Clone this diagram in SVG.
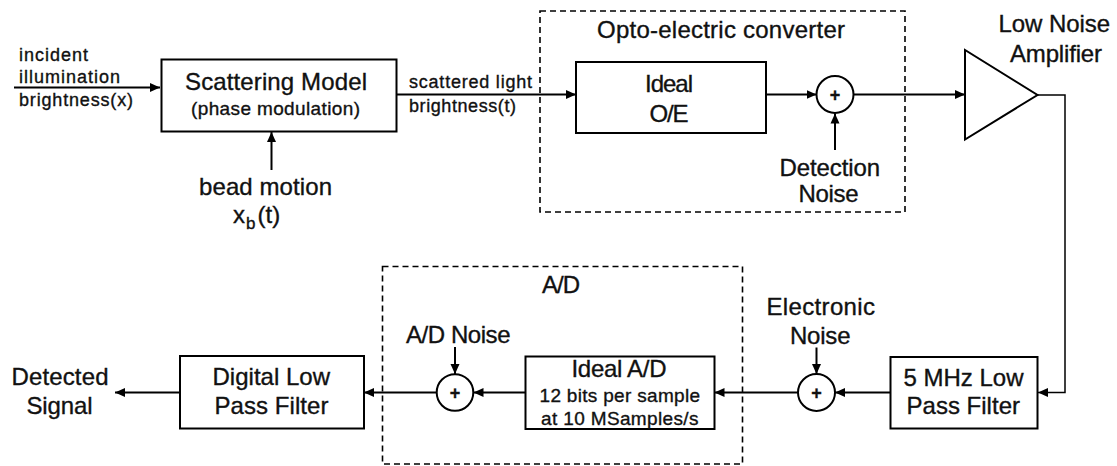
<svg xmlns="http://www.w3.org/2000/svg" width="1117" height="466" viewBox="0 0 1117 466">
<defs>
<marker id="arr" markerUnits="userSpaceOnUse" markerWidth="11" markerHeight="10" refX="10" refY="5" orient="auto">
<path d="M0,0.5 L10,5 L0,9.5 z" fill="#000"/>
</marker>
<style>
text{font-family:"Liberation Sans",Arial,Helvetica,sans-serif;fill:#111;stroke:#111;stroke-width:0.35}
.lg{font-size:24px}
.sm{font-size:18px}
.pl{font-size:18px;font-weight:bold;text-anchor:middle}
.box{fill:#fff;stroke:#000;stroke-width:2}
.dash{fill:none;stroke:#000;stroke-width:1.6;stroke-dasharray:6 4}
.sum{fill:#fff;stroke:#000;stroke-width:2}
.ar{fill:none;stroke:#000;stroke-width:2;marker-end:url(#arr)}
.thin{stroke-width:1.5}
</style>
</defs>
<rect width="1117" height="466" fill="#fff"/>

<g id="opto-electric-group">
<rect class="dash" x="540" y="11" width="365" height="201"/>
<text class="lg" x="597" y="38" textLength="248" lengthAdjust="spacing">Opto-electric converter</text>
</g>
<g id="ad-group">
<rect class="dash" x="382.5" y="266.5" width="360" height="197.5"/>
<text class="lg" x="542" y="293" textLength="38" lengthAdjust="spacing">A/D</text>
</g>

<g id="connectors">
<line class="ar" x1="14" y1="87.5" x2="160" y2="87.5"/>
<line class="ar" x1="271.5" y1="170" x2="271.5" y2="132"/>
<line class="ar" x1="397" y1="94.5" x2="576" y2="94.5"/>
<line class="ar" x1="766" y1="94.5" x2="816.5" y2="94.5"/>
<line class="ar" x1="835" y1="150" x2="835" y2="113.5"/>
<line class="ar" x1="853.5" y1="94.5" x2="965" y2="94.5"/>
<polyline class="ar thin" points="1037.5,95 1065,95 1065,392.5 1038,392.5"/>
<line class="ar" x1="890.5" y1="392.5" x2="835" y2="392.5"/>
<line class="ar" x1="816.5" y1="347.5" x2="816.5" y2="374"/>
<line class="ar" x1="798" y1="392.5" x2="714.5" y2="392.5"/>
<line class="ar" x1="525.5" y1="392.5" x2="473.5" y2="392.5"/>
<line class="ar" x1="455" y1="347" x2="455" y2="374"/>
<line class="ar" x1="436.5" y1="392.5" x2="364" y2="392.5"/>
<line class="ar" x1="180" y1="392.5" x2="115" y2="392.5"/>
</g>

<g id="incident-label">
<text class="sm" x="19" y="60.5" textLength="69" lengthAdjust="spacing">incident</text>
<text class="sm" x="19" y="83" textLength="101" lengthAdjust="spacing">illumination</text>
<text class="sm" x="19" y="105.5" textLength="114" lengthAdjust="spacing">brightness(x)</text>
</g>

<g id="scattering-model">
<rect class="box" x="161.5" y="59.5" width="235" height="72"/>
<text class="lg" x="185" y="90" textLength="182" lengthAdjust="spacing">Scattering Model</text>
<text class="sm" x="191" y="115" style="font-size:19px" textLength="169" lengthAdjust="spacing">(phase modulation)</text>
</g>

<g id="bead-motion">
<text class="lg" x="199" y="195" textLength="133" lengthAdjust="spacing">bead motion</text>
<text class="lg" x="233" y="223">x<tspan style="font-size:17px" dx="1" dy="6">b</tspan><tspan dx="2" dy="-6">(t)</tspan></text>
</g>

<g id="scattered-label">
<text class="sm" x="409" y="88" textLength="123" lengthAdjust="spacing">scattered light</text>
<text class="sm" x="409" y="111.5" textLength="107" lengthAdjust="spacing">brightness(t)</text>
</g>

<g id="ideal-oe">
<rect class="box" x="576" y="62" width="190" height="71"/>
<text class="lg" x="645" y="91.5" textLength="48" lengthAdjust="spacing">Ideal</text>
<text class="lg" x="649.5" y="121.5" textLength="39" lengthAdjust="spacing">O/E</text>
</g>

<g id="sum-detection">
<circle class="sum" cx="835" cy="94.5" r="18.5"/>
<text class="pl" x="835" y="101">+</text>
</g>

<g id="detection-noise">
<text class="lg" x="779.5" y="176" textLength="100.5" lengthAdjust="spacing">Detection</text>
<text class="lg" x="798.5" y="201.5" textLength="60" lengthAdjust="spacing">Noise</text>
</g>

<g id="low-noise-amplifier">
<polygon points="965,50 965,139.5 1037.5,95" fill="#fff" stroke="#000" stroke-width="2"/>
<text class="lg" x="998.5" y="31.5" textLength="111.5" lengthAdjust="spacing">Low Noise</text>
<text class="lg" x="1010" y="61.5" textLength="92" lengthAdjust="spacing">Amplifier</text>
</g>

<g id="lpf-5mhz">
<rect class="box" x="890.5" y="357" width="147" height="71.5"/>
<text class="lg" x="903.5" y="386" textLength="120" lengthAdjust="spacing">5 MHz Low</text>
<text class="lg" x="906.5" y="414" textLength="113.5" lengthAdjust="spacing">Pass Filter</text>
</g>

<g id="sum-electronic">
<circle class="sum" cx="816.5" cy="392.5" r="18.5"/>
<text class="pl" x="816.5" y="399">+</text>
</g>

<g id="electronic-noise">
<text class="lg" x="766.5" y="315" textLength="108.5" lengthAdjust="spacing">Electronic</text>
<text class="lg" x="790" y="344" textLength="60.5" lengthAdjust="spacing">Noise</text>
</g>

<g id="ideal-ad">
<rect class="box" x="525.5" y="356.5" width="189" height="72.5"/>
<text class="lg" x="571.5" y="376.5" textLength="95" lengthAdjust="spacing">Ideal A/D</text>
<text class="sm" x="539.5" y="401.5" style="font-size:19px" textLength="160.5" lengthAdjust="spacing">12 bits per sample</text>
<text class="sm" x="541" y="425" style="font-size:19px" textLength="157.5" lengthAdjust="spacing">at 10 MSamples/s</text>
</g>

<g id="sum-ad">
<circle class="sum" cx="455" cy="392.5" r="18.3"/>
<text class="pl" x="455" y="399">+</text>
</g>

<g id="ad-noise">
<text class="lg" x="406" y="343" textLength="104.5" lengthAdjust="spacing">A/D Noise</text>
</g>

<g id="digital-lpf">
<rect class="box" x="180" y="356" width="184" height="72.5"/>
<text class="lg" x="212.5" y="385" textLength="117.5" lengthAdjust="spacing">Digital Low</text>
<text class="lg" x="214.5" y="414" textLength="114" lengthAdjust="spacing">Pass Filter</text>
</g>

<g id="detected-signal">
<text class="lg" x="11.5" y="385" textLength="97" lengthAdjust="spacing">Detected</text>
<text class="lg" x="26.5" y="414" textLength="66" lengthAdjust="spacing">Signal</text>
</g>
</svg>
